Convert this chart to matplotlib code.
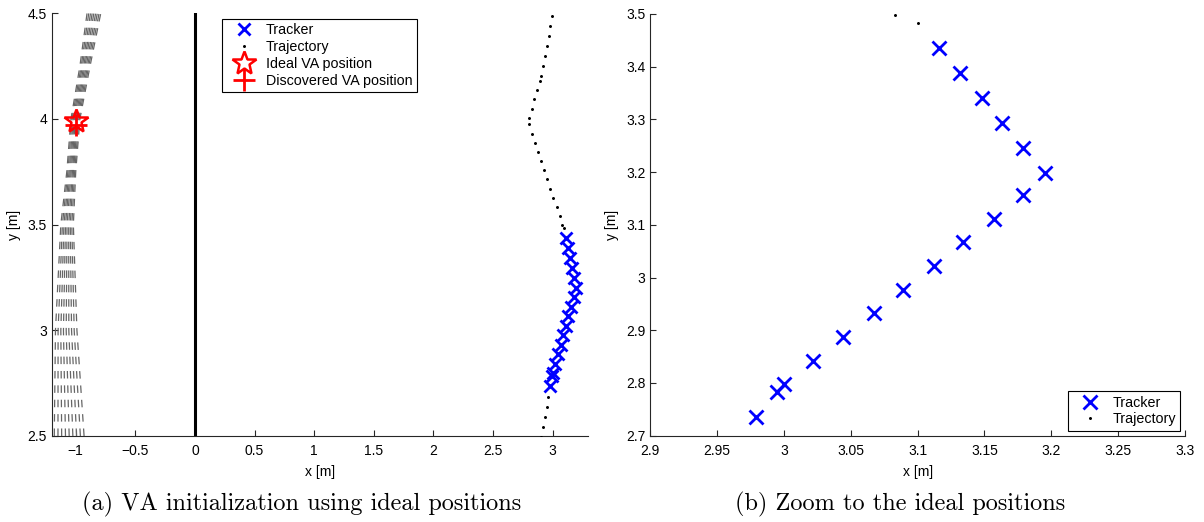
import numpy as np
import matplotlib
matplotlib.use("Agg")
import matplotlib.pyplot as plt

plt.rcParams['font.family'] = ['Liberation Sans', 'DejaVu Sans']

# tracker (ideal positions)
trk_x = [3.116, 3.132, 3.148, 3.163, 3.179, 3.195, 3.179, 3.157, 3.134,
         3.112, 3.089, 3.067, 3.044, 3.022, 3.000, 2.995, 2.979]
trk_y = [3.436, 3.388, 3.341, 3.293, 3.246, 3.198, 3.156, 3.112, 3.067,
         3.022, 2.976, 2.932, 2.888, 2.842, 2.799, 2.782, 2.735]

# true trajectory (dots)
traj_x = [2.996, 2.982, 2.968, 2.951, 2.935, 2.918, 2.901, 2.896, 2.874,
          2.848, 2.826, 2.803, 2.803, 2.829, 2.854, 2.879, 2.904, 2.929,
          2.957, 2.982, 3.008, 3.035, 3.060, 3.083, 3.100,
          3.116, 3.132, 3.148, 3.163, 3.179, 3.195, 3.179, 3.157, 3.134,
          3.112, 3.089, 3.067, 3.044, 3.022, 3.000, 2.995, 2.979,
          2.966, 2.952, 2.935, 2.918, 2.904]
traj_y = [4.489, 4.441, 4.394, 4.345, 4.298, 4.251, 4.203, 4.181, 4.137,
          4.093, 4.047, 4.003, 3.975, 3.930, 3.888, 3.844, 3.800, 3.757,
          3.715, 3.670, 3.628, 3.585, 3.541, 3.499, 3.4835,
          3.436, 3.388, 3.341, 3.293, 3.246, 3.198, 3.156, 3.112, 3.067,
          3.022, 2.976, 2.932, 2.888, 2.842, 2.799, 2.782, 2.735,
          2.686, 2.639, 2.591, 2.544, 2.497]

# VA positions
ideal_va = (-1.0, 3.99)
found_va = (-1.0, 3.97)

# wall at x = 0
wall_x = [0.0, 0.0]
wall_y = [2.5, 4.5]

# gray dashed VA candidate lines (one row per line)
cand_y = [2.5, 3.0, 3.5, 3.75, 4.0, 4.25, 4.5]
cand_x = [
    [-1.180, -1.170, -1.125, -1.075, -1.040, -0.965, -0.905],
    [-1.149, -1.148, -1.112, -1.066, -1.031, -0.954, -0.891],
    [-1.118, -1.125, -1.099, -1.056, -1.021, -0.944, -0.876],
    [-1.086, -1.103, -1.086, -1.047, -1.012, -0.933, -0.862],
    [-1.055, -1.080, -1.073, -1.038, -1.002, -0.923, -0.848],
    [-1.024, -1.058, -1.059, -1.028, -0.993, -0.912, -0.833],
    [-0.993, -1.035, -1.046, -1.019, -0.984, -0.901, -0.819],
    [-0.961, -1.013, -1.033, -1.009, -0.974, -0.891, -0.804],
    [-0.930, -0.990, -1.020, -1.000, -0.965, -0.880, -0.790],
]

captions = ["(a) VA initialization using ideal positions",
            "(b) Zoom to the ideal positions"]

fig = plt.figure(figsize=(12.04, 5.22), dpi=100)
axA = fig.add_axes([0.0431, 0.1648, 0.4455, 0.8098])
axB = fig.add_axes([0.5401, 0.1653, 0.4441, 0.8079])


def style(ax):
    for s in ('top', 'right'):
        ax.spines[s].set_visible(False)
    for s in ('left', 'bottom'):
        ax.spines[s].set_color('0.15')
        ax.spines[s].set_linewidth(0.8)
    ax.tick_params(direction='in', length=4, width=0.8, color='0.15',
                   labelsize=10)
    ax.tick_params(axis='x', pad=6)
    ax.set_xlabel("x [m]", fontsize=10, labelpad=5)
    ax.set_ylabel("y [m]", fontsize=10, labelpad=5)


# ---- (a) ----
for xs in cand_x:
    axA.plot(xs, cand_y, color='0.4', lw=0.9, ls=(0, (6.0, 5.5)),
             dash_capstyle='butt')
axA.plot(wall_x, wall_y, color='black', lw=2.2)
axA.plot(trk_x, trk_y, ls='none', marker='x', ms=9, mew=2, color='#0000ff',
         label='Tracker', zorder=4)
axA.plot(traj_x, traj_y, ls='none', marker='.', ms=2.3, color='black',
         label='Trajectory', zorder=3)
axA.plot(*ideal_va, ls='none', marker='*', ms=18, mew=1.8, mfc='none',
         mec='#ff0000', label='Ideal VA position', zorder=5)
axA.plot(*found_va, ls='none', marker='+', ms=16, mew=2, color='#ff0000',
         label='Discovered VA position', zorder=6)
axA.set_xlim(-1.2, 3.3)
axA.set_ylim(2.5, 4.5)
axA.set_xticks([-1, -0.5, 0, 0.5, 1, 1.5, 2, 2.5, 3])
axA.set_xticklabels(['\u22121', '\u22120.5', '0', '0.5', '1', '1.5', '2', '2.5', '3'])
axA.set_yticks([2.5, 3, 3.5, 4, 4.5])
axA.set_yticklabels(['2.5', '3', '3.5', '4', '4.5'])
style(axA)
legA = axA.legend(loc='upper left', bbox_to_anchor=(0.3166, 0.9865),
                  borderaxespad=0, fontsize=10.3, fancybox=False,
                  edgecolor='black', framealpha=1, borderpad=0.3,
                  labelspacing=0.2, handlelength=2.5, handletextpad=0.3)
legA.get_frame().set_linewidth(0.8)

# ---- (b) ----
axB.plot(trk_x, trk_y, ls='none', marker='x', ms=9.5, mew=2, color='#0000ff',
         label='Tracker', zorder=4)
axB.plot(traj_x, traj_y, ls='none', marker='.', ms=2.3, color='black',
         label='Trajectory', zorder=3)
axB.set_xlim(2.9, 3.3)
axB.set_ylim(2.7, 3.5)
axB.set_xticks([2.9, 2.95, 3, 3.05, 3.1, 3.15, 3.2, 3.25, 3.3])
axB.set_xticklabels(['2.9', '2.95', '3', '3.05', '3.1', '3.15', '3.2', '3.25', '3.3'])
axB.set_yticks([2.7, 2.8, 2.9, 3, 3.1, 3.2, 3.3, 3.4, 3.5])
axB.set_yticklabels(['2.7', '2.8', '2.9', '3', '3.1', '3.2', '3.3', '3.4', '3.5'])
style(axB)
legB = axB.legend(loc='lower right', bbox_to_anchor=(0.9906, 0.0118),
                  borderaxespad=0, fontsize=10.3, fancybox=False,
                  edgecolor='black', framealpha=1, borderpad=0.3,
                  labelspacing=0.2, handlelength=2.5, handletextpad=0.3)
legB.get_frame().set_linewidth(0.8)

fig.text(0.2505, 0.033, captions[0], family='cmr10', fontsize=17.5,
         ha='center', va='center')
fig.text(0.7475, 0.033, captions[1], family='cmr10', fontsize=17.5,
         ha='center', va='center')

fig.savefig("out.png", dpi=100)
